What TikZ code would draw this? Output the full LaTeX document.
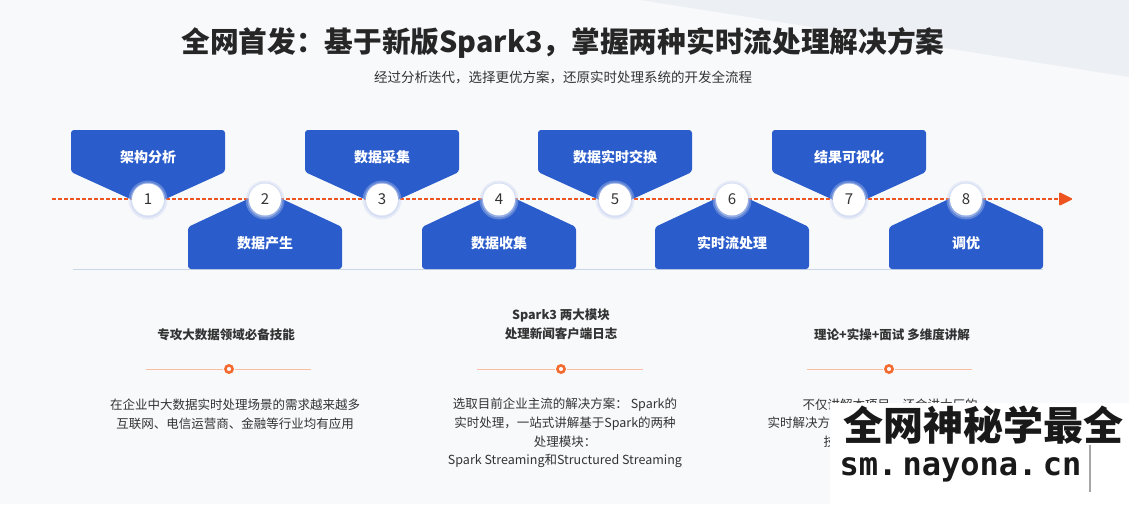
\documentclass[tikz,border=0pt]{standalone}
\usepackage{fontspec}
\setmainfont{Noto Sans CJK SC}
\newfontfamily\wmmono{DejaVu Sans Mono}
\definecolor{tlbg}{HTML}{F8F9FB}
\definecolor{tlshade}{HTML}{ECEFF3}
\definecolor{tlblue}{HTML}{2A5CCB}
\definecolor{tlorange}{HTML}{EE5420}
\definecolor{tlpeach}{HTML}{F9BFA3}
\definecolor{tlring}{HTML}{F36B2E}
\definecolor{tltext}{HTML}{333333}
\definecolor{tlbase}{HTML}{CBD5E8}
\definecolor{tlglow}{HTML}{C6D3F0}

\begin{document}
\begin{tikzpicture}[x=1pt, y=-1pt,
  stepnum/.style={circle, fill=white, minimum size=32pt, inner sep=0pt,
    font=\fontsize{15}{15}\selectfont, text=tltext},
  boxlabel/.style={font=\fontsize{14}{14}\selectfont\bfseries, text=white},
  colhead/.style={font=\fontsize{12.5}{19}\selectfont\bfseries, text=tltext, align=center},
  colbody/.style={font=\fontsize{12.5}{18.6}\selectfont, text=tltext, align=center}]
%% background
\fill[tlbg] (0,0) rectangle (1129,504);
\useasboundingbox (0,0) rectangle (1129,504);
\fill[tlshade] (640,0) -- (1129,0) -- (1129,77) -- cycle;
%% title
\node[font=\fontsize{28.7}{29}\selectfont\bfseries, text=black!85] (title) at (563,43)
  {全网首发：基于新版Spark3，掌握两种实时流处理解决方案};
\node[font=\fontsize{13.5}{13.5}\selectfont, text=tltext] (subtitle) at (563,77)
  {经过分析迭代，选择更优方案，还原实时处理系统的开发全流程};
%% timeline
\draw[tlbase, line width=1pt] (73,269.5) -- (1043,269.5);
\coordinate (tlstart) at (52,199);
\coordinate (tlend) at (1059,199);
\draw[tlorange, line width=1.1pt, dash pattern=on 4pt off 2pt] (tlstart) -- (tlend);
\fill[tlorange, rounded corners=1.2pt] (1059,192) -- (1073,199) -- (1059,206) -- cycle;
%% upper boxes
\foreach \i/\cx/\txt in {1/148/架构分析, 3/382/数据采集, 5/615/数据实时交换, 7/849/结果可视化} {
  \fill[tlblue, rounded corners=3pt] (\cx-77,130) -- (\cx+77,130) -- (\cx+77,172)
    -- (\cx,207) -- (\cx-77,172) -- cycle;
  \node[boxlabel] (lab\i) at (\cx,157) {\txt};
}
%% lower boxes
\foreach \i/\cx/\txt in {2/265/数据产生, 4/499/数据收集, 6/732/实时流处理, 8/966/调优} {
  \fill[tlblue, rounded corners=3pt] (\cx-77,269) -- (\cx-77,227) -- (\cx,191)
    -- (\cx+77,227) -- (\cx+77,269) -- cycle;
  \node[boxlabel] (lab\i) at (\cx,243) {\txt};
}
%% step circles
\foreach \i/\cx in {1/148, 2/265, 3/382, 4/499, 5/615, 6/732, 7/849, 8/966} {
  \fill[tlglow, opacity=0.35] (\cx,200) circle (19.5);
  \fill[tlglow, opacity=0.5] (\cx,200) circle (17.5);
  \node[stepnum] (n\i) at (\cx,199.5) {\i};
}
%% three columns
\node[colhead] (h1) at (226,335) {专攻大数据领域必备技能};
\node[colhead] (h2) at (561,324.5) {Spark3 两大模块\\处理新闻客户端日志};
\node[colhead] (h3) at (892,335) {理论+实操+面试 多维度讲解};
\foreach \j/\xa/\xb/\xr in {1/146/311/229, 2/477/643/561, 3/807/972/889} {
  \draw[tlpeach, line width=0.8pt] (\xa,369) -- (\xb,369);
  \fill[tlbg] (\xr,369) circle (6);
  \draw[tlring, line width=2.6pt] (\xr,369) circle (3.6);
}
\node[colbody] (b1) at (235,414)
  {在企业中大数据实时处理场景的需求越来越多\\互联网、电信运营商、金融等行业均有应用};
\node[colbody] (b2) at (565,433)
  {选取目前企业主流的解决方案： Spark的\\实时处理，一站式讲解基于Spark的两种\\处理模块：\\Spark Streaming和Structured Streaming};
\node[colbody] (b3a) at (890,405) {不仅讲解本项目，还会讲大厂的};
\node[colbody, anchor=west] (b3b) at (764,423) {实时解决方};
\node[colbody, anchor=west] (b3c) at (820,442) {技};
%% overlay stamp
\fill[white] (830,403) rectangle (1129,504);
\node[font=\fontsize{40}{40}\selectfont\bfseries, text=black!90] (wm1) at (983,425) {全网神秘学最全};
\node[font=\wmmono\fontsize{32}{32}\selectfont\bfseries, text=black!90, anchor=west] (wm2) at (836,470) {sm.\,nayona.\,cn};
\draw[black!35, line width=1.2pt] (1090,445) -- (1090,492);
\end{tikzpicture}
\end{document}
